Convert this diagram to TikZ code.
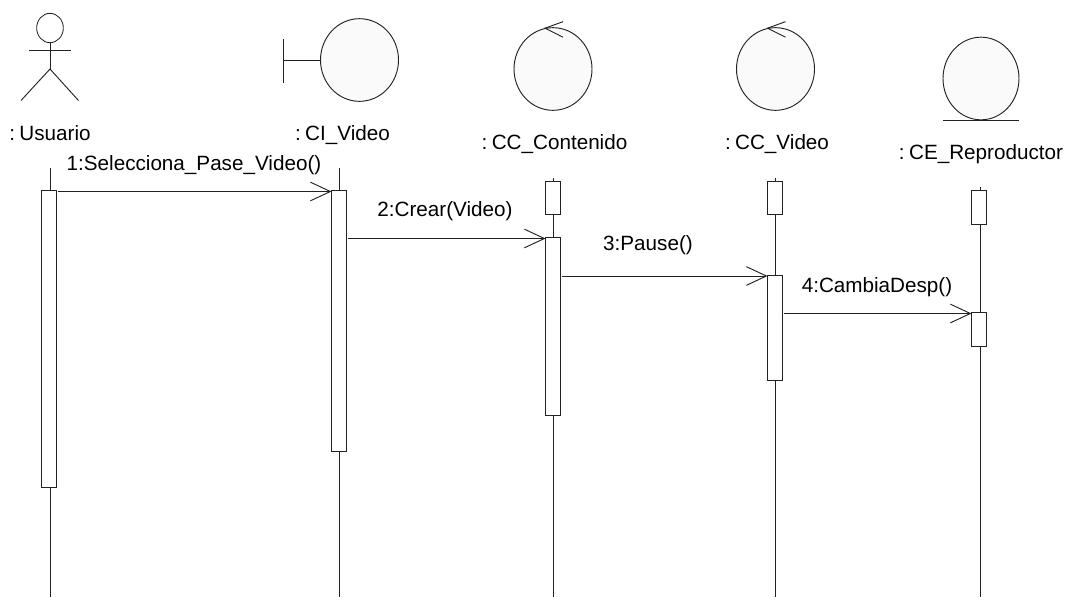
\documentclass[tikz,border=0pt]{standalone}
\usepackage{fontspec}
\setmainfont{Liberation Sans}
\usepackage{tikz}
\usetikzlibrary{calc,arrows.meta,positioning,shapes.geometric}
\definecolor{umlLine}{HTML}{222222}
\definecolor{umlFill}{HTML}{FAFAFA}
\newcommand{\objfont}{\fontsize{15.5pt}{17pt}\selectfont\setlength{\spaceskip}{0.12em}}
\tikzset{
    lifeline/.style={draw=umlLine, line width=0.6pt},
    activation/.style={draw=umlLine, fill=white, line width=0.7pt, minimum width=11.25pt, inner sep=0pt, outer sep=0pt},
    robust/.style={draw=umlLine, fill=umlFill, ellipse, line width=0.7pt, inner sep=0pt, outer sep=0pt, minimum width=58.5pt, minimum height=62pt},
    objname/.style={font=\objfont, text=black, inner sep=0pt},
    msglabel/.style={font=\fontsize{15.5pt}{17pt}\selectfont, text=black, inner sep=0pt},
    message/.style={draw=umlLine, line width=0.7pt, shorten <=0.75pt, -{Straight Barb[length=15pt,width=14pt]}},
    stick/.style={draw=umlLine, line width=0.7pt},
}
\begin{document}
\begin{tikzpicture}[x=0.75pt,y=-0.75pt]
    \useasboundingbox (0,0) rectangle (1076,597);
    % actor
    \node[draw=umlLine, fill=white, ellipse, line width=0.6pt, minimum width=20pt, minimum height=22pt, inner sep=0pt] (head) at (50,28) {};
    \coordinate (neck) at (50,69);
    \coordinate (legL) at (21,100.5);
    \coordinate (legR) at (78.5,100.5);
    \coordinate (armL) at (29,50);
    \coordinate (armR) at (71,50);
    \draw[stick] (head.south) -- (neck);
    \draw[stick] (armL) -- (armR);
    \draw[stick] (legL) -- (neck) -- (legR);
    % boundary
    \node[robust] (civ) at (359.5,60) {};
    \coordinate (barT) at (283.5,39);
    \coordinate (barB) at (283.5,83);
    \coordinate (barM) at (283.5,60.5);
    \draw[stick] (barT) -- (barB);
    \draw[stick] (barM) -- (barM -| civ.west);
    % controls
    \node[robust] (ccc) at (553,69) {};
    \node[robust] (ccv) at (775.5,69) {};
    \foreach \c in {ccc,ccv}
        \draw[stick] ($(\c.north)+(10,-6)$) -- ($(\c.north)+(-8,0.5)$) -- ($(\c.north)+(10,9.5)$);
    % entity
    \node[robust, minimum width=57pt] (cer) at (981,78.5) {};
    \coordinate (baseL) at (943,120.5);
    \coordinate (baseR) at (1019,120.5);
    \draw[stick] (baseL) -- (baseR);
    % names
    \node[objname] (nu) at (50,133) {: Usuario};
    \node[objname] (nv) at (342.5,135) {: CI\_Video};
    \node[objname] (nc) at (554.5,144) {: CC\_Contenido};
    \node[objname] (nd) at (777,144) {: CC\_Video};
    \node[objname] (ne) at (981,154) {: CE\_Reproductor};
    % lifelines
    \coordinate (u0) at (50,168);  \coordinate (u1) at (50,597);
    \coordinate (v0) at (339.5,168); \coordinate (v1) at (339.5,597);
    \coordinate (c0) at (553,178); \coordinate (c1) at (553,597);
    \coordinate (d0) at (775,178); \coordinate (d1) at (775,597);
    \coordinate (e0) at (980,187); \coordinate (e1) at (980,597);
    \foreach \l in {u,v,c,d,e}
        \draw[lifeline] (\l0) -- (\l1);
    % activations: name/centre x/top/bottom
    \foreach \n/\x/\t/\b in {au/49/190.5/487, av/339/190.5/451, ac1/553/181/214, ac2/553/237.5/415.5,
            ad1/775/181/214, ad2/775/275/380.5, ae1/979/190.5/224, ae2/979/312.5/346}
        \node[activation, minimum height={(\b-\t)*0.75pt}] (\n) at (\x,{(\t+\b)/2}) {};
    % messages
    \foreach \from/\to in {au/av, av/ac2, ac2/ad2, ad2/ae2} {
        \coordinate (tip) at ($(\to.north west)+(0,1)$);
        \draw[message] (tip -| \from.east) -- (tip);
    }
    \node[msglabel] (m1) at (194,165.5) {1:Selecciona\_Pase\_Video()};
    \node[msglabel] (m2) at (445,211) {2:Crear(Video)};
    \node[msglabel] (m3) at (648,245) {3:Pause()};
    \node[msglabel] (m4) at (877,287) {4:CambiaDesp()};
\end{tikzpicture}
\end{document}
